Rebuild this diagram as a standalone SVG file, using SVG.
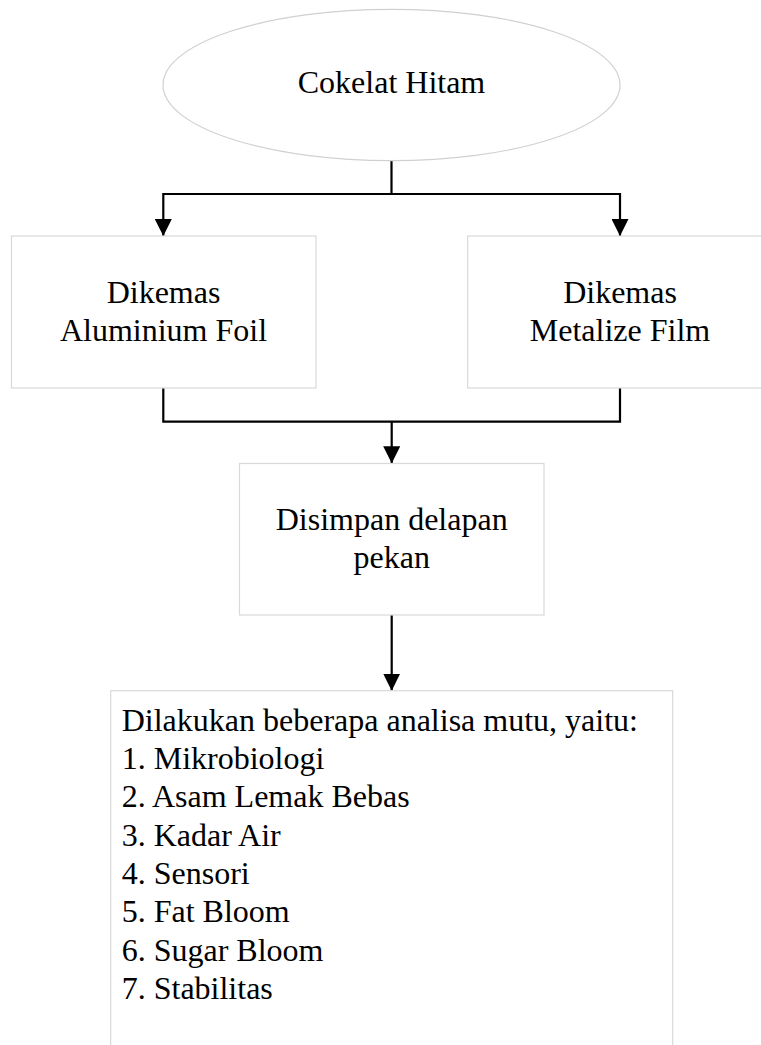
<svg xmlns="http://www.w3.org/2000/svg" width="761" height="1045" viewBox="0 0 761 1045">
  <style>
    .node { fill: #ffffff; stroke: #d9d9d9; stroke-width: 1.2; }
    .lbl { font-family: "Liberation Serif", "Times New Roman", serif; font-size: 32px; fill: #000000; }
    .mid { text-anchor: middle; }
    .conn { fill: none; stroke: #000000; stroke-width: 2.2; }
  </style>
  <defs>
    <marker id="arrow" markerUnits="userSpaceOnUse" markerWidth="17" markerHeight="17" viewBox="0 0 17 17" refX="17" refY="8.5" orient="auto">
      <path d="M0,0 L17,8.5 L0,17 Z" fill="#000000"/>
    </marker>
  </defs>
  <rect width="761" height="1045" fill="#ffffff"/>

  <g id="connectors">
    <polyline class="conn" points="391.5,161 391.5,194 163.3,194 163.3,236" marker-end="url(#arrow)"/>
    <polyline class="conn" points="391.5,194 620,194 620,236" marker-end="url(#arrow)"/>
    <polyline class="conn" points="163.3,388 163.3,421.7 620,421.7 620,388"/>
    <polyline class="conn" points="391.7,421.7 391.7,463.3" marker-end="url(#arrow)"/>
    <polyline class="conn" points="391.7,615 391.7,690.7" marker-end="url(#arrow)"/>
  </g>

  <g id="node-cokelat">
    <ellipse class="node" cx="391.5" cy="85" rx="228.5" ry="75.7" style="stroke:#d0d0d0"/>
    <text class="lbl mid" x="391.5" y="93">Cokelat Hitam</text>
  </g>

  <g id="node-aluminium">
    <rect class="node" x="11.5" y="236" width="304.5" height="152"/>
    <text class="lbl mid" x="163.5" y="302.7">Dikemas</text>
    <text class="lbl mid" x="163.5" y="340.7">Aluminium Foil</text>
  </g>

  <g id="node-metalize">
    <rect class="node" x="467.7" y="236" width="304.5" height="152"/>
    <text class="lbl mid" x="620" y="302.7">Dikemas</text>
    <text class="lbl mid" x="620" y="340.7">Metalize Film</text>
  </g>

  <g id="node-simpan">
    <rect class="node" x="239.5" y="463.5" width="304.5" height="151.5"/>
    <text class="lbl mid" x="391.7" y="530">Disimpan delapan</text>
    <text class="lbl mid" x="391.7" y="568.3">pekan</text>
  </g>

  <g id="node-analisa">
    <rect class="node" x="110.7" y="690.7" width="562" height="400"/>
    <text class="lbl" x="121.7" y="731">Dilakukan beberapa analisa mutu, yaitu:</text>
    <text class="lbl" x="121.7" y="769">1. Mikrobiologi</text>
    <text class="lbl" x="121.7" y="807.3">2. Asam Lemak Bebas</text>
    <text class="lbl" x="121.7" y="845.6">3. Kadar Air</text>
    <text class="lbl" x="121.7" y="883.9">4. Sensori</text>
    <text class="lbl" x="121.7" y="922.2">5. Fat Bloom</text>
    <text class="lbl" x="121.7" y="960.5">6. Sugar Bloom</text>
    <text class="lbl" x="121.7" y="998.8">7. Stabilitas</text>
  </g>
</svg>
